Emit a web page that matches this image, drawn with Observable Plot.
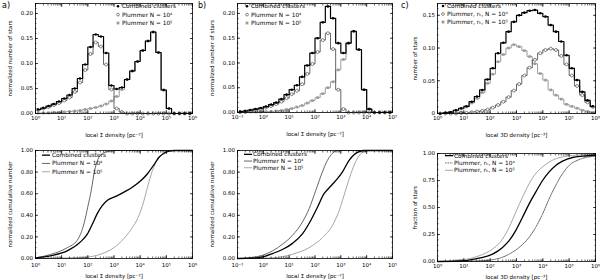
<!DOCTYPE html>
<html><head><meta charset="utf-8">
<script src="https://cdn.jsdelivr.net/npm/d3@7"></script>
<script src="https://cdn.jsdelivr.net/npm/@observablehq/plot@0.6"></script>
<style>
body{margin:0;background:#fff;}
#wrap{position:relative;width:600px;height:280px;overflow:hidden;background:#fff;font-family:"DejaVu Sans",sans-serif;color:#000;}
.p{position:absolute;}
.lt{position:absolute;font-size:8px;line-height:8px;}
</style></head><body><div id="wrap"></div>
<script>
// ---------- data ----------
const binLogAC = [0.1,0.3,0.5,0.7,0.9,1.1,1.3,1.5,1.7,1.9,2.1,2.3,2.5,2.7,2.9,3.1,3.3,3.5,3.7,3.9,4.1,4.3,4.5,4.7,4.9,5.1,5.3,5.5,5.7,5.9];
const binLogB = [-0.9,-0.7,-0.5,-0.3,-0.1,0.1,0.3,0.5,0.7,0.9,1.1,1.3,1.5,1.7,1.9,2.1,2.3,2.5,2.7,2.9,3.1,3.3,3.5,3.7,3.9,4.1,4.3,4.5,4.7,4.9];

const aTotal = [0.008,0.011,0.015,0.019,0.024,0.030,0.037,0.050,0.070,0.098,0.133,0.158,0.154,0.121,0.056,0.049,0.052,0.068,0.085,0.104,0.126,0.145,0.163,0.122,0.047,0.010,0,0,0,0];
const aN4 = [0.007,0.010,0.013,0.017,0.021,0.026,0.032,0.043,0.062,0.087,0.119,0.142,0.134,0.098,0.048,0.010,0.003,0,0,0,0,0,0,0,0,0,0,0,0,0];
const aN5 = [0.001,0.001,0.001,0.002,0.002,0.003,0.004,0.005,0.006,0.008,0.010,0.012,0.015,0.019,0.025,0.034,0.048,0.068,0.085,0.104,0.126,0.145,0.163,0.122,0.047,0.010,0,0,0,0];

const bTotal = [0.002,0.003,0.005,0.007,0.009,0.012,0.016,0.020,0.027,0.036,0.046,0.055,0.072,0.095,0.120,0.150,0.182,0.214,0.190,0.140,0.120,0.140,0.164,0.127,0.046,0.007,0,0,0,0];
const bN4 = [0.001,0.002,0.003,0.005,0.007,0.010,0.013,0.017,0.022,0.029,0.037,0.044,0.057,0.078,0.098,0.122,0.146,0.160,0.128,0.046,0.007,0,0,0,0,0,0,0,0,0];
const bN5 = [0,0,0.001,0.001,0.001,0.002,0.002,0.003,0.004,0.006,0.008,0.011,0.014,0.019,0.024,0.030,0.038,0.050,0.062,0.086,0.107,0.140,0.164,0.127,0.046,0.007,0,0,0,0];

const cTotal = [0.000,0.001,0.002,0.005,0.008,0.011,0.018,0.026,0.036,0.052,0.069,0.092,0.108,0.125,0.140,0.150,0.154,0.157,0.158,0.153,0.148,0.135,0.125,0.110,0.089,0.069,0.051,0.033,0.020,0.011];
const cDark = [0,0,0,0,0.001,0.001,0.002,0.003,0.004,0.006,0.009,0.013,0.018,0.025,0.035,0.045,0.058,0.070,0.082,0.092,0.097,0.099,0.097,0.088,0.075,0.058,0.042,0.028,0.017,0.010];
const cLight = [0,0.001,0.002,0.005,0.007,0.010,0.016,0.023,0.032,0.046,0.060,0.079,0.090,0.100,0.105,0.102,0.096,0.087,0.076,0.061,0.051,0.036,0.028,0.022,0.014,0.011,0.008,0.005,0.003,0.001];

// cumulative curves (log10 density, cumulative fraction)
const cumABlackLog = [0,0.57,1.21,1.72,1.98,2.17,2.36,2.55,2.75,3.07,3.38,3.70,4.02,4.28,4.53,4.73,4.92,5.11,5.3,6.0];
const cumABlack    = [0.006,0.025,0.07,0.154,0.225,0.317,0.415,0.49,0.54,0.575,0.615,0.66,0.72,0.785,0.87,0.94,0.975,0.994,1.0,1.0];
const cumADarkLog  = [0,0.57,1.21,1.6,1.85,2.0,2.13,2.26,2.38,2.55,2.75,3.0,6.0];
const cumADark     = [0.006,0.037,0.10,0.17,0.32,0.48,0.63,0.815,0.915,0.97,0.99,1.0,1.0];
const cumALightLog = [0,1.85,2.49,3.0,3.38,3.70,3.9,4.09,4.28,4.47,4.66,4.85,5.04,5.3,6.0];
const cumALight    = [0,0.01,0.04,0.10,0.185,0.286,0.37,0.49,0.66,0.815,0.914,0.97,0.99,1,1];

const cumBBlackLog = [-1,-0.42,-0.03,0.35,0.74,1.13,1.52,1.84,2.10,2.35,2.55,2.81,3.06,3.32,3.52,3.71,3.90,5.0];
const cumBBlack    = [0,0.003,0.015,0.046,0.083,0.14,0.23,0.354,0.477,0.60,0.655,0.723,0.80,0.908,0.963,0.99,1,1];
const cumBDarkLog  = [-1,-0.42,-0.03,0.35,0.74,1.13,1.52,1.77,2.03,2.26,2.48,2.68,2.87,5.0];
const cumBDark     = [0,0.01,0.03,0.07,0.132,0.215,0.34,0.46,0.63,0.785,0.908,0.975,1,1];
const cumBLightLog = [-1,0.35,1.13,1.77,2.29,2.68,2.94,3.19,3.39,3.58,3.77,3.97,4.16,5.0];
const cumBLight    = [0,0.006,0.04,0.10,0.194,0.308,0.446,0.637,0.785,0.90,0.97,0.994,1,1];

const cumCBlackLog = [0,0.95,1.58,2.09,2.47,2.72,2.97,3.23,3.48,3.73,3.99,4.24,4.49,4.75,5.13,5.51,6.0];
const cumCBlack    = [0,0.006,0.031,0.068,0.13,0.193,0.286,0.41,0.534,0.643,0.75,0.83,0.89,0.93,0.963,0.975,0.984];
const cumCLightLog = [0,0.95,1.58,2.09,2.47,2.72,2.97,3.23,3.48,3.73,3.99,4.37,4.75,5.25,6.0];
const cumCLight    = [0,0.016,0.053,0.115,0.208,0.317,0.456,0.596,0.72,0.814,0.876,0.938,0.969,0.984,0.994];
const cumCDarkLog  = [0,1.58,2.22,2.72,3.1,3.48,3.73,3.99,4.24,4.49,4.75,5.0,5.32,5.63,6.0];
const cumCDark     = [0,0.006,0.022,0.068,0.13,0.224,0.317,0.44,0.58,0.705,0.814,0.89,0.938,0.963,0.975];

// ticks and labels
const xTicksAC = [1,10,100,1e3,1e4,1e5,1e6];
const xLabelsAC = ["10⁰","10¹","10²","10³","10⁴","10⁵","10⁶"];
const xTicksB = [0.1,1,10,100,1e3,1e4,1e5];
const xLabelsB = ["10⁻¹","10⁰","10¹","10²","10³","10⁴","10⁵"];
const yTicksTopAB = [0,0.05,0.10,0.15,0.20];
const yLabelsTopAB = ["0.00","0.05","0.10","0.15","0.20"];
const yTicksTopC = [0,0.05,0.10,0.15];
const yLabelsTopC = ["0","0.05","0.10","0.15"];
const yTicksBotAB = [0,0.2,0.4,0.6,0.8,1.0];
const yLabelsBotAB = ["0.00","0.20","0.40","0.60","0.80","1.00"];
const yTicksBotC = [0,0.25,0.5,0.75,1.0];
const yLabelsBotC = ["0.00","0.25","0.50","0.75","1.00"];

const legTopAB = ["Combined clusters","Plummer N = 10⁴","Plummer N = 10⁵"];
const legTopC = ["Combined clusters","Plummer, rₕ, N = 10⁴","Plummer, rₕ, N = 10⁵"];
const xTitleS = "local Σ density [pc⁻²]";
const xTitle3 = "local 3D density [pc⁻³]";

// ---------- drawing ----------
const wrap = document.getElementById("wrap");
const DARK = "#555", LIGHT = "#9c9c9c";

function histRows(logs, tot, s1, s2) {
  return logs.map((c, i) => ({x: Math.pow(10, c), tot: tot[i], s1: s1[i], s2: s2[i]}));
}
function cumRows(logs, vals) {
  return logs.map((c, i) => ({x: Math.pow(10, c), y: vals[i]}));
}
function histMarks(rows) {
  return [
    Plot.line(rows, {x: "x", y: "s2", curve: "step", stroke: LIGHT, strokeWidth: 1}),
    Plot.dot(rows, {x: "x", y: "s2", symbol: "square", r: 1.5, fill: LIGHT}),
    Plot.line(rows, {x: "x", y: "s1", curve: "step", stroke: DARK, strokeWidth: 0.9}),
    Plot.dot(rows, {x: "x", y: "s1", r: 1.5, stroke: DARK, fill: "white", strokeWidth: 0.7}),
    Plot.line(rows, {x: "x", y: "tot", curve: "step", stroke: "#000", strokeWidth: 1.2}),
    Plot.dot(rows, {x: "x", y: "tot", r: 1.3, fill: "#000"})
  ];
}

function panel(cfg) {
  const fmt = (ticks, labels) => d => labels[ticks.indexOf(d)];
  const marks = [
    ...cfg.marks,
    Plot.frame({stroke: "#000", strokeWidth: 0.8}),
    Plot.axisX({anchor: "bottom", ticks: 100, tickSize: -1.5, fill: "none", strokeWidth: 0.6}),
    Plot.axisX({anchor: "top", ticks: 100, tickSize: -1.5, fill: "none", strokeWidth: 0.6}),
    Plot.axisX(cfg.xTicks, {anchor: "bottom", tickSize: -3, fill: "none", strokeWidth: 0.7}),
    Plot.axisX(cfg.xTicks, {anchor: "top", tickSize: -3, fill: "none", strokeWidth: 0.7}),
    Plot.axisY({anchor: "left", ticks: 20, tickSize: -1.5, fill: "none", strokeWidth: 0.6}),
    Plot.axisY({anchor: "right", ticks: 20, tickSize: -1.5, fill: "none", strokeWidth: 0.6}),
    Plot.axisY(cfg.yTicks, {anchor: "left", tickSize: -3, fill: "none", strokeWidth: 0.7}),
    Plot.axisY(cfg.yTicks, {anchor: "right", tickSize: -3, fill: "none", strokeWidth: 0.7}),
    Plot.axisX(cfg.xTicks, {anchor: "bottom", tickSize: 0, tickPadding: cfg.xPad, fontSize: 5.5,
      tickFormat: fmt(cfg.xTicks, cfg.xLabels), label: cfg.xTitle, labelAnchor: "center",
      labelOffset: cfg.xLabOff, labelArrow: "none"}),
    Plot.axisY(cfg.yTicks, {anchor: "left", tickSize: 0, tickPadding: 2.5, fontSize: 5.5,
      tickFormat: fmt(cfg.yTicks, cfg.yLabels), label: cfg.yTitle, labelAnchor: "center",
      labelOffset: cfg.yLabOff, labelArrow: "none"})
  ];
  const svg = Plot.plot({
    width: cfg.w, height: cfg.h,
    marginLeft: cfg.ml, marginRight: cfg.mr, marginTop: cfg.mt, marginBottom: cfg.mb,
    style: {fontFamily: "DejaVu Sans, sans-serif", fontSize: "6px", background: "transparent", color: "#000", overflow: "visible"},
    x: {type: "log", domain: cfg.xDomain},
    y: {domain: cfg.yDomain},
    marks
  });
  svg.classList.add("p");
  svg.style.left = cfg.left + "px";
  svg.style.top = cfg.top + "px";
  wrap.appendChild(svg);
}

// legend drawn as a small SVG (swatch + text per row)
const NS = "http://www.w3.org/2000/svg";
function legend(left, top, rowH, swW, items) {
  const svg = document.createElementNS(NS, "svg");
  svg.setAttribute("width", 120);
  svg.setAttribute("height", rowH * items.length + 2);
  svg.setAttribute("class", "p");
  svg.style.left = left + "px";
  svg.style.top = top + "px";
  let html = "";
  items.forEach((it, i) => {
    const cy = rowH * (i + 0.5);
    html += it.sw(cy);
    html += `<text x="${swW}" y="${cy}" dy="0.35em" font-family="DejaVu Sans, sans-serif" font-size="5.8" fill="#000">${it.text}</text>`;
  });
  svg.innerHTML = html;
  wrap.appendChild(svg);
}
const swDot = cy => `<circle cx="4" cy="${cy}" r="1.3" fill="#000"/>`;
const swOpen = cy => `<circle cx="4" cy="${cy}" r="1.4" fill="white" stroke="${DARK}" stroke-width="0.7"/>`;
const swSq = cy => `<rect x="2.6" y="${cy - 1.4}" width="2.8" height="2.8" fill="${LIGHT}"/>`;
const swLine = (col, w, dash) => cy => `<line x1="1" x2="9" y1="${cy}" y2="${cy}" stroke="${col}" stroke-width="${w}" ${dash ? `stroke-dasharray="${dash}"` : ""}/>`;

// top row
panel({left: 0, top: 0, w: 196, h: 140, ml: 35, mr: 4, mt: 3, mb: 27,
  xDomain: [1, 1e6], xTicks: xTicksAC, xLabels: xLabelsAC, xTitle: xTitleS, xPad: 3, xLabOff: 23,
  yDomain: [0, 0.22], yTicks: yTicksTopAB, yLabels: yLabelsTopAB, yTitle: "normalized number of stars", yLabOff: 27,
  marks: histMarks(histRows(binLogAC, aTotal, aN4, aN5))});
panel({left: 200, top: 0, w: 196, h: 140, ml: 37, mr: 4, mt: 3, mb: 28,
  xDomain: [0.1, 1e5], xTicks: xTicksB, xLabels: xLabelsB, xTitle: xTitleS, xPad: 3, xLabOff: 23,
  yDomain: [0, 0.22], yTicks: yTicksTopAB, yLabels: yLabelsTopAB, yTitle: "normalized number of stars", yLabOff: 27,
  marks: histMarks(histRows(binLogB, bTotal, bN4, bN5))});
panel({left: 400, top: 0, w: 200, h: 140, ml: 37, mr: 5, mt: 3, mb: 27,
  xDomain: [1, 1e6], xTicks: xTicksAC, xLabels: xLabelsAC, xTitle: xTitle3, xPad: 3, xLabOff: 23,
  yDomain: [0, 0.168], yTicks: yTicksTopC, yLabels: yLabelsTopC, yTitle: "number of stars", yLabOff: 24,
  marks: histMarks(histRows(binLogAC, cTotal, cDark, cLight))});

// bottom row
function cumMarks(bl, bv, dl, dv, ll, lv, darkDash) {
  return [
    Plot.line(cumRows(ll, lv), {x: "x", y: "y", curve: "monotone-x", stroke: LIGHT, strokeWidth: 0.9}),
    Plot.line(cumRows(dl, dv), {x: "x", y: "y", curve: "monotone-x", stroke: DARK, strokeWidth: 0.9, strokeDasharray: darkDash}),
    Plot.line(cumRows(bl, bv), {x: "x", y: "y", curve: "monotone-x", stroke: "#000", strokeWidth: 1.3})
  ];
}
panel({left: 0, top: 140, w: 196, h: 140, ml: 35, mr: 4, mt: 10, mb: 22,
  xDomain: [1, 1e6], xTicks: xTicksAC, xLabels: xLabelsAC, xTitle: xTitleS, xPad: 5, xLabOff: 19,
  yDomain: [0, 1], yTicks: yTicksBotAB, yLabels: yLabelsBotAB, yTitle: "normalized cumulative number", yLabOff: 27,
  marks: cumMarks(cumABlackLog, cumABlack, cumADarkLog, cumADark, cumALightLog, cumALight, null)});
panel({left: 200, top: 140, w: 196, h: 140, ml: 37, mr: 4, mt: 10, mb: 22,
  xDomain: [0.1, 1e5], xTicks: xTicksB, xLabels: xLabelsB, xTitle: xTitleS, xPad: 5, xLabOff: 19,
  yDomain: [0, 1], yTicks: yTicksBotAB, yLabels: yLabelsBotAB, yTitle: "normalized cumulative number", yLabOff: 27,
  marks: cumMarks(cumBBlackLog, cumBBlack, cumBDarkLog, cumBDark, cumBLightLog, cumBLight, null)});
panel({left: 400, top: 140, w: 200, h: 140, ml: 37, mr: 5, mt: 13, mb: 19,
  xDomain: [1, 1e6], xTicks: xTicksAC, xLabels: xLabelsAC, xTitle: xTitle3, xPad: 3, xLabOff: 17,
  yDomain: [0, 1], yTicks: yTicksBotC, yLabels: yLabelsBotC, yTitle: "fraction of stars", yLabOff: 24,
  marks: cumMarks(cumCBlackLog, cumCBlack, cumCDarkLog, cumCDark, cumCLightLog, cumCLight, "1.5,1")});

// legends
legend(114, 1.8, 8.4, 8, [{sw: swDot, text: legTopAB[0]}, {sw: swOpen, text: legTopAB[1]}, {sw: swSq, text: legTopAB[2]}]);
legend(243, 1.8, 8.4, 8, [{sw: swDot, text: legTopAB[0]}, {sw: swOpen, text: legTopAB[1]}, {sw: swSq, text: legTopAB[2]}]);
legend(439, 2, 8, 8, [{sw: swDot, text: legTopC[0]}, {sw: swOpen, text: legTopC[1]}, {sw: swSq, text: legTopC[2]}]);
legend(41, 151, 8.3, 11, [{sw: swLine("#000", 1.3), text: legTopAB[0]}, {sw: swLine(DARK, 0.9), text: legTopAB[1]}, {sw: swLine(LIGHT, 0.9), text: legTopAB[2]}]);
legend(243, 150.6, 6.7, 10, [{sw: swLine("#000", 1.3), text: legTopAB[0]}, {sw: swLine(DARK, 0.9), text: legTopAB[1]}, {sw: swLine(LIGHT, 0.9), text: legTopAB[2]}]);
legend(444, 152.3, 7.3, 10, [{sw: swLine("#000", 1.3), text: legTopC[0]}, {sw: swLine(DARK, 0.9, "1.5,1"), text: legTopC[1]}, {sw: swLine(LIGHT, 0.9), text: legTopC[2]}]);

// panel letters
for (const [t, x] of [["a)", 2], ["b)", 198], ["c)", 401]]) {
  const s = document.createElement("div");
  s.className = "lt"; s.textContent = t; s.style.left = x + "px"; s.style.top = "2px";
  wrap.appendChild(s);
}
</script></body></html>
